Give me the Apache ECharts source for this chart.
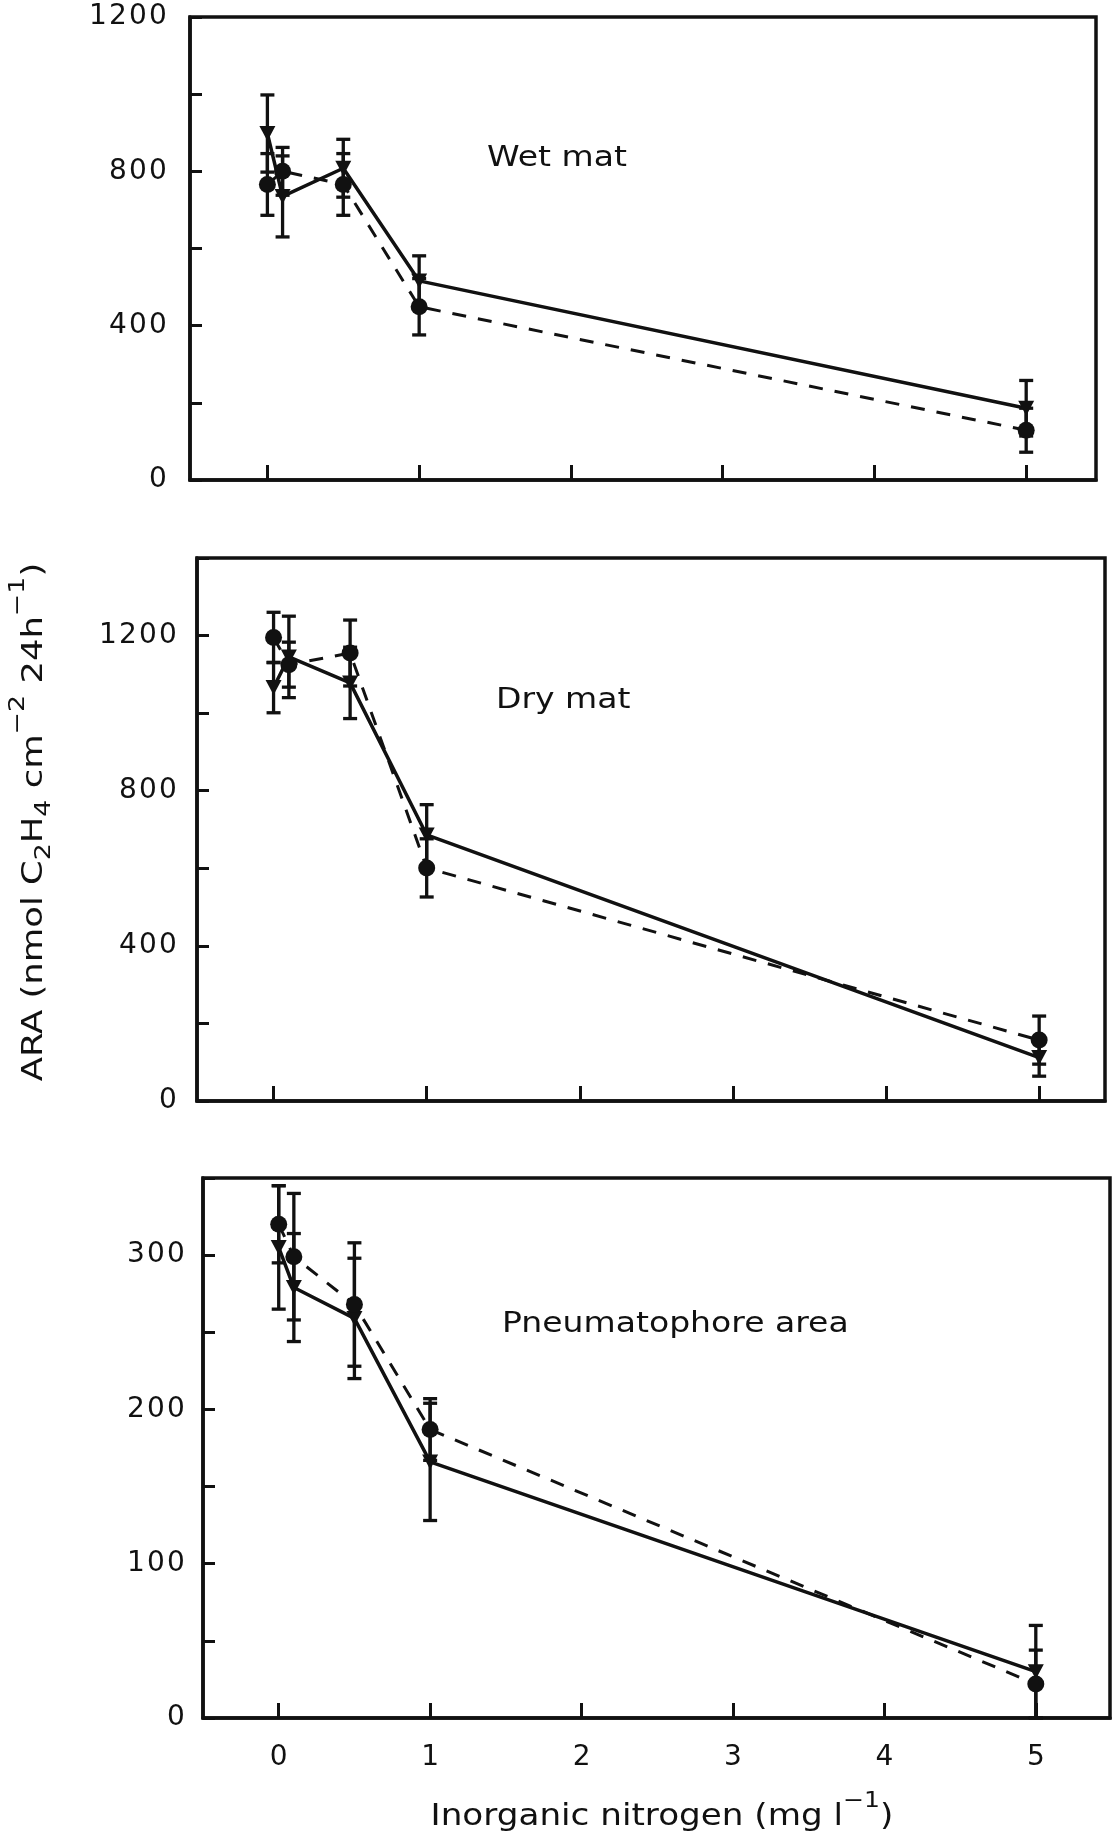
<!DOCTYPE html>
<html>
<head>
<meta charset="utf-8">
<script src="https://cdn.jsdelivr.net/npm/echarts@6/dist/echarts.min.js"></script>
<style>
html,body{margin:0;padding:0;background:#ffffff;}
#c{width:1116px;height:1838px;}
</style>
</head>
<body>
<div id="c"></div>
<script>
// ---- data ----
const nitrogen = [0, 0.1, 0.5, 1, 5];           // x values (mg l-1)
const xTickValues = [0, 1, 2, 3, 4, 5];

// Wet mat
const wetTri = [898, 735, 808, 516, 186];
const wetTriErr = [100, 105, 75, 65, 72];
const wetCirc = [766, 800, 766, 449, 129];
const wetCircErr = [80, 62, 80, 73, 57];
// Dry mat
const dryTri = [1066, 1145, 1078, 686, 112];
const dryTriErr = [65, 105, 92, 78, 48];
const dryCirc = [1195, 1125, 1155, 601, 157];
const dryCircErr = [65, 58, 85, 75, 62];
// Pneumatophore area
const pneTri = [305, 279, 259, 166, 30];
const pneTriErr = [40, 35, 39, 38, 30];
const pneCirc = [320, 299, 268, 187, 22];
const pneCircErr = [25, 41, 40, 20, 22];

const panelNames = ['Wet mat', 'Dry mat', 'Pneumatophore area'];
const yMax = [1200, 1400, 350];
const yTickStep = [200, 200, 50];
const yLabelStep = [400, 400, 100];
const xTitle = 'Inorganic nitrogen (mg l';
const yTitleParts = ['ARA (nmol C', '2', 'H', '4', ' cm', '−2', ' 24h', '−1', ')'];

// ---- layout / style ----
const INK = '#111111';
const FONT = 'DejaVu Sans';
const grids = [
  {left: 190, top: 17, width: 906, height: 463},
  {left: 197, top: 558, width: 908, height: 543},
  {left: 203, top: 1178, width: 907, height: 540}
];
const xRanges = [[-0.51, 5.46], [-0.5, 5.43], [-0.5, 5.49]];
const yLabelMargin = [22, 19, 17];

const panels = [
  {tri: wetTri, triErr: wetTriErr, circ: wetCirc, circErr: wetCircErr},
  {tri: dryTri, triErr: dryTriErr, circ: dryCirc, circErr: dryCircErr},
  {tri: pneTri, triErr: pneTriErr, circ: pneCirc, circErr: pneCircErr}
];

function errRender(params, api) {
  const x = api.value(0), lo = api.value(1), hi = api.value(2);
  const pLo = api.coord([x, lo]);
  const pHi = api.coord([x, hi]);
  const hw = 7;
  const st = {stroke: INK, lineWidth: 3.3};
  return {
    type: 'group',
    children: [
      {type: 'line', shape: {x1: pLo[0], y1: pLo[1], x2: pHi[0], y2: pHi[1]}, style: st},
      {type: 'line', shape: {x1: pLo[0] - hw, y1: pLo[1], x2: pLo[0] + hw, y2: pLo[1]}, style: st},
      {type: 'line', shape: {x1: pHi[0] - hw, y1: pHi[1], x2: pHi[0] + hw, y2: pHi[1]}, style: st}
    ]
  };
}

// digits spread out like the original lettering
function spaced(v) {
  return String(v).split('').map(d => '{d|' + d + '}').join('');
}
const digitRich = {d: {width: 20, align: 'center', fontSize: 28, fontFamily: FONT, color: INK}};

const gridOpts = grids.map(g => Object.assign({
  show: true, borderColor: INK, borderWidth: 3.5, backgroundColor: 'transparent'
}, g));

const xAxes = grids.map((g, i) => ({
  type: 'value', gridIndex: i,
  min: xRanges[i][0], max: xRanges[i][1],
  axisLine: {show: true, onZero: false, lineStyle: {color: INK, width: 3.5}},
  axisTick: {show: true, inside: true, length: 15, customValues: xTickValues,
             lineStyle: {color: INK, width: 3}},
  axisLabel: {show: i === 2, customValues: xTickValues, margin: 26,
              color: INK, fontSize: 28, fontFamily: FONT,
              formatter: v => spaced(v), rich: digitRich},
  splitLine: {show: false}
}));

const yAxes = grids.map((g, i) => ({
  type: 'value', gridIndex: i,
  min: 0, max: yMax[i], interval: yTickStep[i],
  axisLine: {show: true, onZero: false, lineStyle: {color: INK, width: 3.5}},
  axisTick: {show: true, inside: true, length: 12, lineStyle: {color: INK, width: 3}},
  axisLabel: {
    margin: yLabelMargin[i], color: INK, fontSize: 28, fontFamily: FONT,
    formatter: v => (v % yLabelStep[i] === 0 ? spaced(v) : ''),
    rich: digitRich
  },
  splitLine: {show: false}
}));

const series = [];
panels.forEach((p, i) => {
  series.push({
    type: 'custom', xAxisIndex: i, yAxisIndex: i, silent: true, z: 2,
    renderItem: errRender, encode: {x: 0, y: [1, 2]},
    data: nitrogen.map((x, k) => [x, p.tri[k] - p.triErr[k], p.tri[k] + p.triErr[k]])
  });
  series.push({
    type: 'custom', xAxisIndex: i, yAxisIndex: i, silent: true, z: 2,
    renderItem: errRender, encode: {x: 0, y: [1, 2]},
    data: nitrogen.map((x, k) => [x, p.circ[k] - p.circErr[k], p.circ[k] + p.circErr[k]])
  });
  series.push({
    type: 'line', xAxisIndex: i, yAxisIndex: i, z: 3,
    data: nitrogen.map((x, k) => [x, p.tri[k]]),
    symbol: 'triangle', symbolRotate: 180, symbolSize: [16, 15], showAllSymbol: true,
    lineStyle: {color: INK, width: 3.5, type: 'solid'},
    itemStyle: {color: INK}
  });
  series.push({
    type: 'line', xAxisIndex: i, yAxisIndex: i, z: 3,
    data: nitrogen.map((x, k) => [x, p.circ[k]]),
    symbol: 'circle', symbolSize: 17, showAllSymbol: true,
    lineStyle: {color: INK, width: 3, type: [14, 12]},
    itemStyle: {color: INK}
  });
});

const richBase = {
  m: {fontSize: 29, fontFamily: FONT, fill: INK, lineHeight: 60},
  sub: {fontSize: 22, fontFamily: FONT, fill: INK, verticalAlign: 'bottom', height: 40},
  sup: {fontSize: 22, fontFamily: FONT, fill: INK, verticalAlign: 'top', height: 28}
};
const yTitleTags = ['m', 'sub', 'm', 'sub', 'm', 'sup', 'm', 'sup', 'm'];
const yTitleText = yTitleParts.map((t, k) => '{' + yTitleTags[k] + '|' + t + '}').join('');
const xTitleText = '{m|' + xTitle + '}{sup|−1}{m|)}';

const labelPos = [[487, 159], [496, 701], [502, 1325]];
const graphic = panelNames.map((name, i) => ({
  type: 'text', x: labelPos[i][0], y: labelPos[i][1], scaleX: 1.18, silent: true,
  style: {text: name, fontSize: 28, fontFamily: FONT, fill: INK, align: 'left', verticalAlign: 'middle'}
}));
graphic.push({
  type: 'text', x: 662, y: 1817, scaleX: 1.14, silent: true,
  style: {text: xTitleText, rich: {
    m: Object.assign({}, richBase.m, {fontSize: 30}),
    sup: richBase.sup
  }, align: 'center', verticalAlign: 'middle', fill: INK}
});
graphic.push({
  type: 'text', x: 34, y: 822, rotation: Math.PI / 2, scaleX: 1.22, silent: true,
  style: {text: yTitleText, rich: richBase, align: 'center', verticalAlign: 'middle', fill: INK}
});

const chart = echarts.init(document.getElementById('c'), null, {renderer: 'canvas'});
chart.setOption({
  backgroundColor: '#ffffff',
  animation: false,
  grid: gridOpts,
  xAxis: xAxes,
  yAxis: yAxes,
  series: series,
  graphic: graphic
});
</script>
</body>
</html>
